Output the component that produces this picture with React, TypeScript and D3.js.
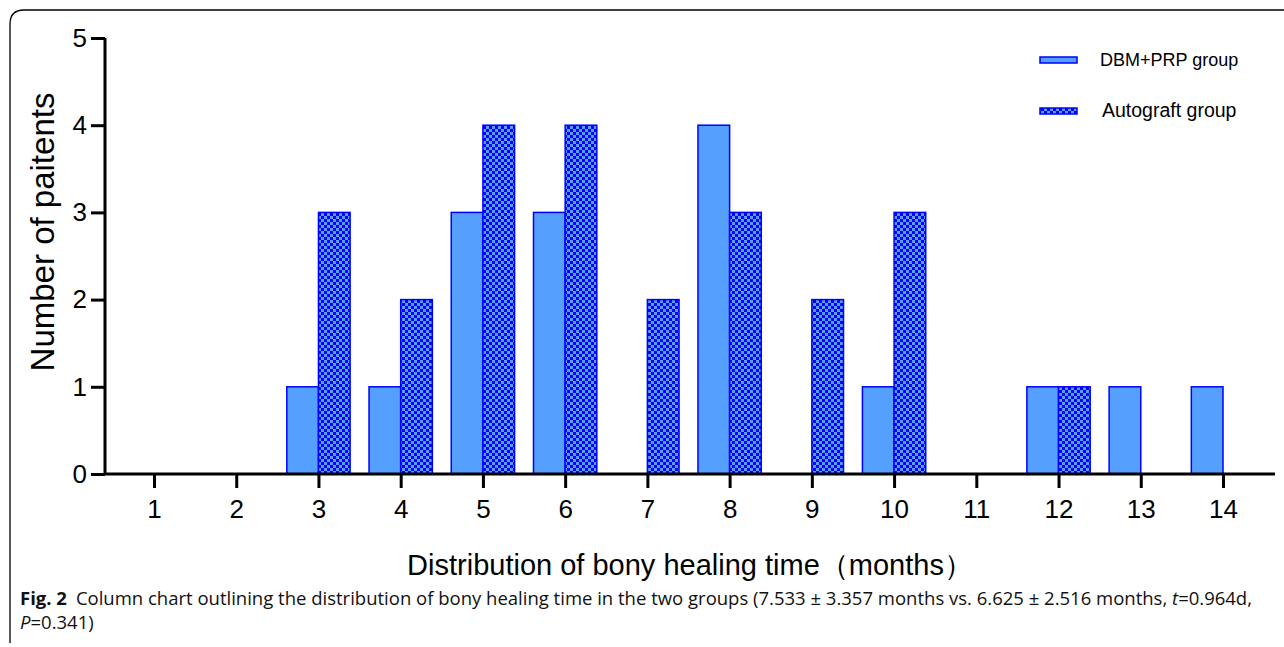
import * as React from "react";
import * as d3 from "d3";

const months = [1, 2, 3, 4, 5, 6, 7, 8, 9, 10, 11, 12, 13, 14];
const dbmPrp = [0, 0, 1, 1, 3, 3, 0, 4, 0, 1, 0, 1, 1, 1];
const autograft = [0, 0, 3, 2, 4, 4, 2, 3, 2, 3, 0, 1, 0, 0];
const yTicks = [0, 1, 2, 3, 4, 5];
const seriesNames = ["DBM+PRP group", "Autograft group"];

export default function App() {
  const ref = React.useRef<SVGSVGElement>(null);

  React.useEffect(() => {
    const svg = d3.select(ref.current);
    svg.selectAll("*").remove();

    const x = d3.scaleLinear().domain([1, 14]).range([154, 1223]);
    const y = d3.scaleLinear().domain([0, 5]).range([474, 38]);
    const barW = 0.385;
    const light = "#559fff";
    const blue = "#0000ff";

    const defs = svg.append("defs");
    const pat = defs.append("pattern")
      .attr("id", "checker")
      .attr("patternUnits", "userSpaceOnUse")
      .attr("width", 6).attr("height", 6);
    pat.append("rect").attr("width", 6).attr("height", 6).attr("fill", blue);
    pat.append("rect").attr("x", 0).attr("y", 0).attr("width", 3).attr("height", 3).attr("fill", light);
    pat.append("rect").attr("x", 3).attr("y", 3).attr("width", 3).attr("height", 3).attr("fill", light);

    // frame
    svg.append("path")
      .attr("d", "M10,643 L10,24 Q10,10 24,10 L1284,10")
      .attr("fill", "none").attr("stroke", "#000").attr("stroke-width", 1.3);

    const g = svg.append("g");

    // bars
    g.selectAll(".dbm").data(months).enter().filter((d, i) => dbmPrp[i] > 0)
      .append("rect")
      .attr("x", (d) => x(d - barW))
      .attr("y", (d) => y(dbmPrp[d - 1]))
      .attr("width", (d) => x(d) - x(d - barW))
      .attr("height", (d) => y(0) - y(dbmPrp[d - 1]))
      .attr("fill", light).attr("stroke", blue).attr("stroke-width", 1.5);

    g.selectAll(".auto").data(months).enter().filter((d, i) => autograft[i] > 0)
      .append("rect")
      .attr("x", (d) => x(d))
      .attr("y", (d) => y(autograft[d - 1]))
      .attr("width", (d) => x(d + barW) - x(d))
      .attr("height", (d) => y(0) - y(autograft[d - 1]))
      .attr("fill", "url(#checker)").attr("stroke", blue).attr("stroke-width", 1.5);

    const font = "Liberation Sans, Arial, sans-serif";

    // y axis
    const yAxis = g.append("g").attr("transform", "translate(105,0)")
      .call(d3.axisLeft(y).tickValues(yTicks).tickFormat(d3.format("d")).tickSize(14).tickPadding(4));
    yAxis.select(".domain").attr("stroke-width", 3).attr("d", `M0,${y(0)}V${y(5)}H0`);
    yAxis.selectAll(".tick line").attr("stroke-width", 3);
    yAxis.selectAll("text").attr("font-size", 26).attr("font-family", font).attr("fill", "#000");

    // x axis
    const xAxis = g.append("g").attr("transform", `translate(0,${y(0)})`)
      .call(d3.axisBottom(x).tickValues(months).tickFormat(d3.format("d")).tickSize(14).tickPadding(12));
    xAxis.select(".domain").attr("stroke-width", 3).attr("d", "M104,0H1275");
    xAxis.selectAll(".tick line").attr("stroke-width", 3);
    xAxis.selectAll("text").attr("font-size", 26).attr("font-family", font).attr("fill", "#000");

    // axis titles
    svg.append("text")
      .attr("transform", "translate(54,232) rotate(-90)")
      .attr("text-anchor", "middle")
      .attr("font-size", 33).attr("font-family", font)
      .text("Number of paitents");
    svg.append("text")
      .attr("x", 690).attr("y", 575)
      .attr("text-anchor", "middle")
      .attr("font-size", 29).attr("font-family", font)
      .text("Distribution of bony healing time（months）");

    // legend
    const lg = svg.append("g");
    seriesNames.forEach((name, i) => {
      const yy = 60 + i * 51;
      lg.append("rect").attr("x", 1040).attr("y", yy - 3).attr("width", 37).attr("height", 6)
        .attr("fill", i === 0 ? light : "url(#checker)").attr("stroke", blue).attr("stroke-width", 1.5);
      lg.append("text").attr("x", i === 0 ? 1100 : 1102).attr("y", yy + 6)
        .attr("font-size", i === 0 ? 18 : 19.5).attr("font-family", font).text(name);
    });

    // caption
    const capFont = "Open Sans, sans-serif";
    const cap = svg.append("text").attr("x", 20).attr("y", 605)
      .attr("font-size", 18.5).attr("font-family", capFont).attr("fill", "#111");
    cap.append("tspan").attr("font-weight", "bold").text("Fig. 2");
    cap.append("tspan").attr("dx", 9)
      .text("Column chart outlining the distribution of bony healing time in the two groups (7.533 ± 3.357 months vs. 6.625 ± 2.516 months, ");
    cap.append("tspan").attr("font-style", "italic").text("t");
    cap.append("tspan").text("=0.964d,");
    const cap2 = svg.append("text").attr("x", 20).attr("y", 629)
      .attr("font-size", 18.5).attr("font-family", capFont).attr("fill", "#111");
    cap2.append("tspan").attr("font-style", "italic").text("P");
    cap2.append("tspan").text("=0.341)");
  }, []);

  return (
    <svg ref={ref} width={1284} height={647}
      style={{ position: "absolute", left: 0, top: 0, background: "#fff" }} />
  );
}
